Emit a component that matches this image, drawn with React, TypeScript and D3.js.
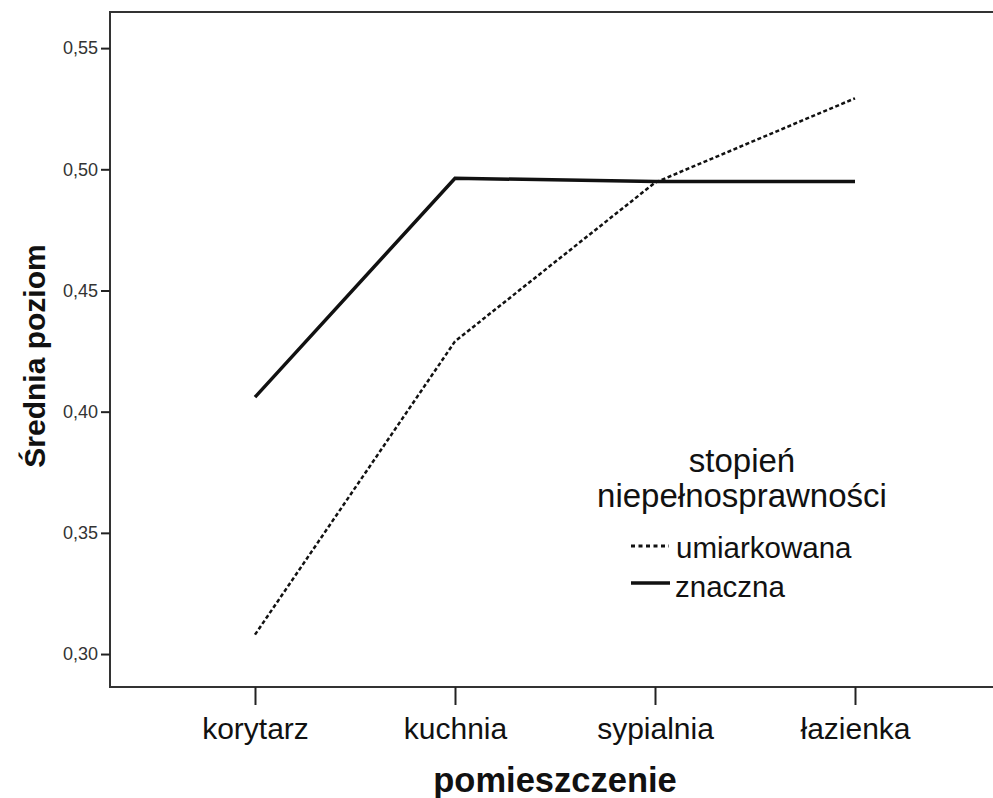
import * as d3 from "d3";
import { useRef, useEffect } from "react";

const rooms = ["korytarz", "kuchnia", "sypialnia", "łazienka"];
const umiarkowana = [0.308, 0.429, 0.4945, 0.5293];
const znaczna = [0.406, 0.4963, 0.495, 0.495];
const yTicks = [0.3, 0.35, 0.4, 0.45, 0.5, 0.55];

export default function App() {
  const svgRef = useRef<SVGSVGElement>(null);

  useEffect(() => {
    const width = 993;
    const height = 798;
    const marginLeft = 110;
    const marginTop = 12;
    const marginBottom = 111;
    const plotRight = 1000;

    const svg = d3.select(svgRef.current);
    svg.selectAll("*").remove();
    svg.attr("width", width).attr("height", height).attr("viewBox", [0, 0, width, height]);

    const x = d3.scalePoint().domain(rooms).range([marginLeft, plotRight]).padding(0.725);
    const y = d3
      .scaleLinear()
      .domain([0.2864, 0.5649])
      .range([height - marginBottom, marginTop]);

    const font = "'Liberation Sans', Arial, sans-serif";

    // frame
    svg
      .append("rect")
      .attr("x", marginLeft)
      .attr("y", marginTop)
      .attr("width", plotRight - marginLeft)
      .attr("height", height - marginBottom - marginTop)
      .attr("fill", "none")
      .attr("stroke", "#333")
      .attr("stroke-width", 2);

    // y axis
    svg
      .append("g")
      .attr("transform", `translate(${marginLeft},0)`)
      .call(
        d3
          .axisLeft(y)
          .tickValues(yTicks)
          .tickSize(9)
          .tickPadding(3)
          .tickFormat((d) => d3.format(".2f")(d as number).replace(".", ","))
      )
      .call((g) => g.select(".domain").remove())
      .call((g) => g.selectAll("line").attr("stroke", "#222").attr("stroke-width", 2))
      .call((g) =>
        g.selectAll("text").attr("font-family", font).attr("font-size", 18).attr("fill", "#333")
      );

    // x axis
    svg
      .append("g")
      .attr("transform", `translate(0,${height - marginBottom})`)
      .call(d3.axisBottom(x).tickSize(18).tickPadding(13))
      .call((g) => g.select(".domain").remove())
      .call((g) => g.selectAll("line").attr("stroke", "#222").attr("stroke-width", 2))
      .call((g) =>
        g.selectAll("text").attr("font-family", font).attr("font-size", 30).attr("fill", "#111")
      );

    // axis titles
    svg
      .append("text")
      .attr("x", 555)
      .attr("y", 792)
      .attr("text-anchor", "middle")
      .attr("font-family", font)
      .attr("font-weight", "bold")
      .attr("font-size", 34.5)
      .attr("fill", "#111")
      .text("pomieszczenie");

    svg
      .append("text")
      .attr("transform", `translate(45,356) rotate(-90)`)
      .attr("text-anchor", "middle")
      .attr("font-family", font)
      .attr("font-weight", "bold")
      .attr("font-size", 30)
      .attr("fill", "#111")
      .text("Średnia poziom");

    const line = d3
      .line<number>()
      .x((_, i) => x(rooms[i]) as number)
      .y((d) => y(d));

    svg
      .append("path")
      .attr("d", line(umiarkowana))
      .attr("fill", "none")
      .attr("stroke", "#111")
      .attr("stroke-width", 2.5)
      .attr("stroke-dasharray", "4,2.5");

    svg
      .append("path")
      .attr("d", line(znaczna))
      .attr("fill", "none")
      .attr("stroke", "#111")
      .attr("stroke-width", 3.5);

    // legend
    const lg = svg.append("g").attr("font-family", font).attr("fill", "#111");
    lg.append("text")
      .attr("x", 742)
      .attr("y", 472)
      .attr("text-anchor", "middle")
      .attr("font-size", 33)
      .text("stopień");
    lg.append("text")
      .attr("x", 742)
      .attr("y", 507)
      .attr("text-anchor", "middle")
      .attr("font-size", 33)
      .text("niepełnosprawności");

    lg.append("line")
      .attr("x1", 631)
      .attr("x2", 669)
      .attr("y1", 546)
      .attr("y2", 546)
      .attr("stroke", "#111")
      .attr("stroke-width", 3)
      .attr("stroke-dasharray", "4,3.5");
    lg.append("text").attr("x", 676).attr("y", 558).attr("font-size", 29.5).text("umiarkowana");

    lg.append("line")
      .attr("x1", 631)
      .attr("x2", 670)
      .attr("y1", 583)
      .attr("y2", 583)
      .attr("stroke", "#111")
      .attr("stroke-width", 3.5);
    lg.append("text").attr("x", 675).attr("y", 597).attr("font-size", 29.5).text("znaczna");
  }, []);

  return (
    <svg
      ref={svgRef}
      style={{ position: "absolute", left: 0, top: 0, background: "#fff" }}
    ></svg>
  );
}
